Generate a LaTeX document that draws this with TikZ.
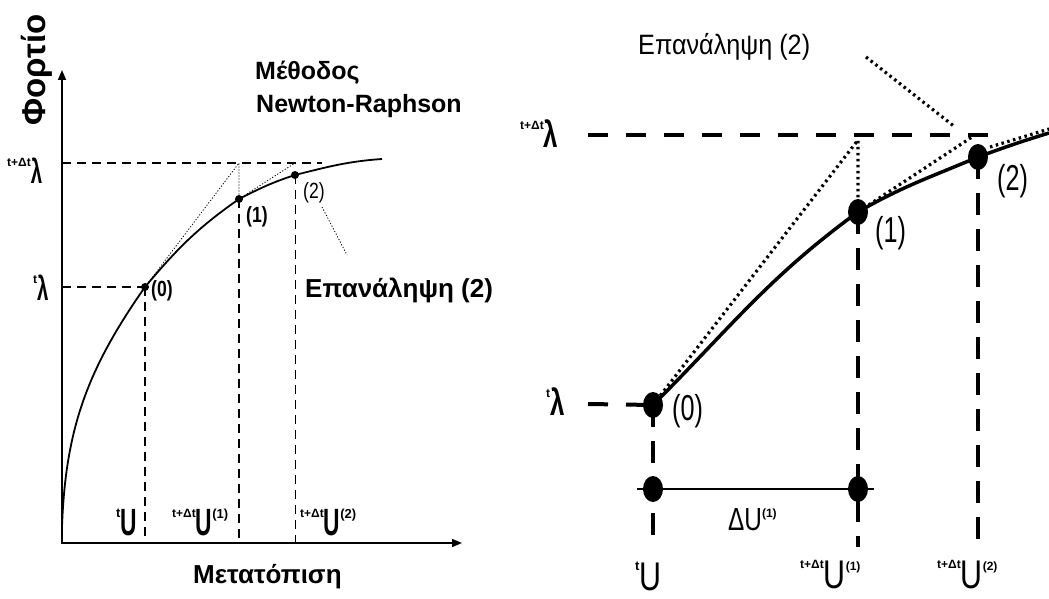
\documentclass[tikz,border=0pt]{standalone}
\usepackage{fontspec}
\setmainfont{Liberation Sans}
\newfontfamily\nA{Liberation Sans}
\newfontfamily\nB[FakeStretch=0.7]{Liberation Sans}
\newfontfamily\nC[FakeStretch=0.6]{Liberation Sans}
\newfontfamily\nD[FakeStretch=0.8]{Liberation Sans}
\newfontfamily\nE[FakeStretch=0.76]{Liberation Sans}
\newfontfamily\nF[FakeStretch=0.9]{Liberation Sans}
\usetikzlibrary{arrows.meta,shapes.geometric}
\newcommand\fs[1]{\fontsize{#1}{#1}\selectfont}
\newcommand\rsup[3]{\raisebox{#1}{\nA\bfseries\fs{#2}#3}}
\begin{document}
\begin{tikzpicture}[x=1pt,y=-1pt,
  axisline/.style={line width=1.6pt,{Triangle[length=10pt,width=8pt]}-{Triangle[length=10pt,width=8pt]}},
  ldash/.style={line width=1.4pt,dash pattern=on 9pt off 6pt},
  ldashthin/.style={line width=1pt,dash pattern=on 9pt off 6pt},
  ldot/.style={line width=0.8pt,dash pattern=on 1.2pt off 1.8pt},
  lcurve/.style={line width=1.8pt},
  rdash/.style={line width=4pt,dash pattern=on 20pt off 18pt},
  rvdash/.style={line width=3.5pt,dash pattern=on 22pt off 14pt},
  rdot/.style={line width=3.2pt,dash pattern=on 2.5pt off 3.5pt},
  rcurve/.style={line width=3.5pt},
  ldotpt/.style={circle,fill=black,inner sep=0pt,minimum size=8pt},
  rdotpt/.style={ellipse,fill=black,inner sep=0pt,minimum width=20pt,minimum height=26pt},
  lbl/.style={anchor=base west,inner sep=0pt}]
\useasboundingbox (0,0) rectangle (1049,599);

% ---------------- left plot ----------------
\coordinate (Ytop) at (62,70);
\coordinate (O) at (62,543);
\coordinate (Xend) at (462,543);
\draw[axisline] (Ytop) -- (O) -- (Xend);

\coordinate (Lstart) at (62,527);
\node[ldotpt] (L0) at (145,287) {};
\node[ldotpt] (L1) at (239,199) {};
\node[ldotpt] (L2) at (295,175) {};
\coordinate (Lend) at (382,159);
\coordinate (Lt1) at (239,163);
\coordinate (Lt2) at (295,163);
\coordinate (LlamT) at (62,287);
\coordinate (LlamD) at (62,163);
\coordinate (LlamDe) at (322,163);
\coordinate (LB0) at (145,543);
\coordinate (LB1) at (239,543);
\coordinate (LB2) at (295,543);
\coordinate (Llead1) at (322,207);
\coordinate (Llead2) at (347,255);

\draw[lcurve] (Lstart) to[out=88,in=235] (L0.center) to[out=50,in=215] (L1.center)
  to[out=27,in=198] (L2.center) to[out=14,in=184] (Lend);
\draw[ldash] (LlamT) -- (L0.center);
\draw[ldash] (LlamD) -- (LlamDe);
\draw[ldash] (L0.center) -- (LB0);
\draw[ldash] (L1.center) -- (LB1);
\draw[ldashthin] (L2.center) -- (LB2);
\draw[ldot] (L0.center) -- (Lt1) -- (L1.center) -- (Lt2);
\draw[ldot] (Llead1) -- (Llead2);

\node[rotate=90,inner sep=0pt,font=\nA\bfseries\fs{33}] (fortio) at (37,70) {Φορτίο};
\node[lbl,font=\nA\bfseries\fs{25}] (meth1) at (255,80) {Μέθοδος};
\node[lbl,font=\nA\bfseries\fs{25}] (meth2) at (256,113) {Newton-Raphson};
\node[lbl,font=\nA\bfseries\fs{26}] (lrep) at (305,297) {Επανάληψη (2)};
\node[lbl,font=\nA\bfseries\fs{26}] (xlab) at (193,583) {Μετατόπιση};

\node[lbl,font=\nD\bfseries\fs{22}] (l0) at (151,296) {(0)};
\node[lbl,font=\nD\bfseries\fs{22}] (l1) at (246,222) {(1)};
\node[lbl,font=\nD\fs{22}] (l2) at (303,198) {(2)};

\node[lbl,font=\nC\bfseries\fs{34}] (llt) at (33,300) {\rsup{17pt}{12}{t}λ};
\node[lbl,font=\nC\bfseries\fs{34}] (lld) at (7,183) {\rsup{17pt}{12}{t+Δt}λ};
\node[lbl,font=\nC\bfseries\fs{38}] (lut) at (116,535) {\rsup{18pt}{13}{t}U};
\node[lbl,font=\nC\bfseries\fs{38}] (lu1) at (172,535) {\rsup{18pt}{12}{t+Δt}U\rsup{17pt}{13}{(1)}};
\node[lbl,font=\nC\bfseries\fs{38}] (lu2) at (300,535) {\rsup{18pt}{12}{t+Δt}U\rsup{17pt}{13}{(2)}};

% ---------------- right plot ----------------
\node[rdotpt] (R0) at (653,405) {};
\node[rdotpt] (R1) at (858,212) {};
\node[rdotpt] (R2) at (978,157) {};
\coordinate (Rend) at (1049,133);
\coordinate (Rt1) at (858,140);
\coordinate (Rt2) at (972,137);
\coordinate (Rext1) at (990,147);
\coordinate (Rext2) at (1049,129);
\coordinate (Rlead1) at (866,57);
\coordinate (Rlead2) at (955,127);
\coordinate (RlamD) at (588,135);
\coordinate (RlamDe) at (998,135);
\coordinate (RlamT) at (588,404);
\coordinate (RB0) at (653,535);
\coordinate (RB1) at (858,547);
\coordinate (RB2) at (978,547);
\node[rdotpt] (D0) at (653,489) {};
\node[rdotpt] (D1) at (858,489) {};
\coordinate (DUa) at (637,489);
\coordinate (DUb) at (874,489);

\draw[rdash] (RlamD) -- (RlamDe);
\draw[rdash] (RlamT) -- (R0.center);
\draw[rvdash] (R0.center) -- (RB0);
\draw[rvdash] (R1.center) -- (RB1);
\draw[rvdash] (R2.center) -- (RB2);
\draw[line width=1.6pt] (DUa) -- (DUb);
\draw[rdot] (R0.center) -- (Rt1) -- (R1.center) -- (Rt2);
\draw[rdot] (Rext1) -- (Rext2);
\draw[rdot] (Rlead1) -- (Rlead2);
\draw[rcurve] (R0.center) to[out=45,in=216] (R1.center) to[out=30,in=203] (R2.center)
  to[out=20,in=197] (Rend);

\node[lbl,font=\nF\fs{28}] (rrep) at (638,55) {Επανάληψη (2)};
\node[lbl,font=\nB\fs{36}] (r0) at (672,420) {(0)};
\node[lbl,font=\nB\fs{36}] (r1) at (875,242) {(1)};
\node[lbl,font=\nB\fs{36}] (r2) at (997,190) {(2)};
\node[lbl,font=\nE\fs{32}] (rdu) at (728,530) {ΔU\rsup{13pt}{12}{(1)}};

\node[lbl,font=\nB\bfseries\fs{37}] (rlt) at (546,415) {\rsup{18pt}{12}{t}λ};
\node[lbl,font=\nB\bfseries\fs{37}] (rld) at (520,147) {\rsup{18pt}{12}{t+Δt}λ};
\node[lbl,font=\nE\fs{40}] (rut) at (635,590) {\rsup{20pt}{13}{t}U};
\node[lbl,font=\nE\fs{40}] (ru1) at (800,588) {\rsup{20pt}{12}{t+Δt}U\rsup{18pt}{12}{(1)}};
\node[lbl,font=\nE\fs{40}] (ru2) at (937,588) {\rsup{20pt}{12}{t+Δt}U\rsup{18pt}{12}{(2)}};
\end{tikzpicture}
\end{document}
